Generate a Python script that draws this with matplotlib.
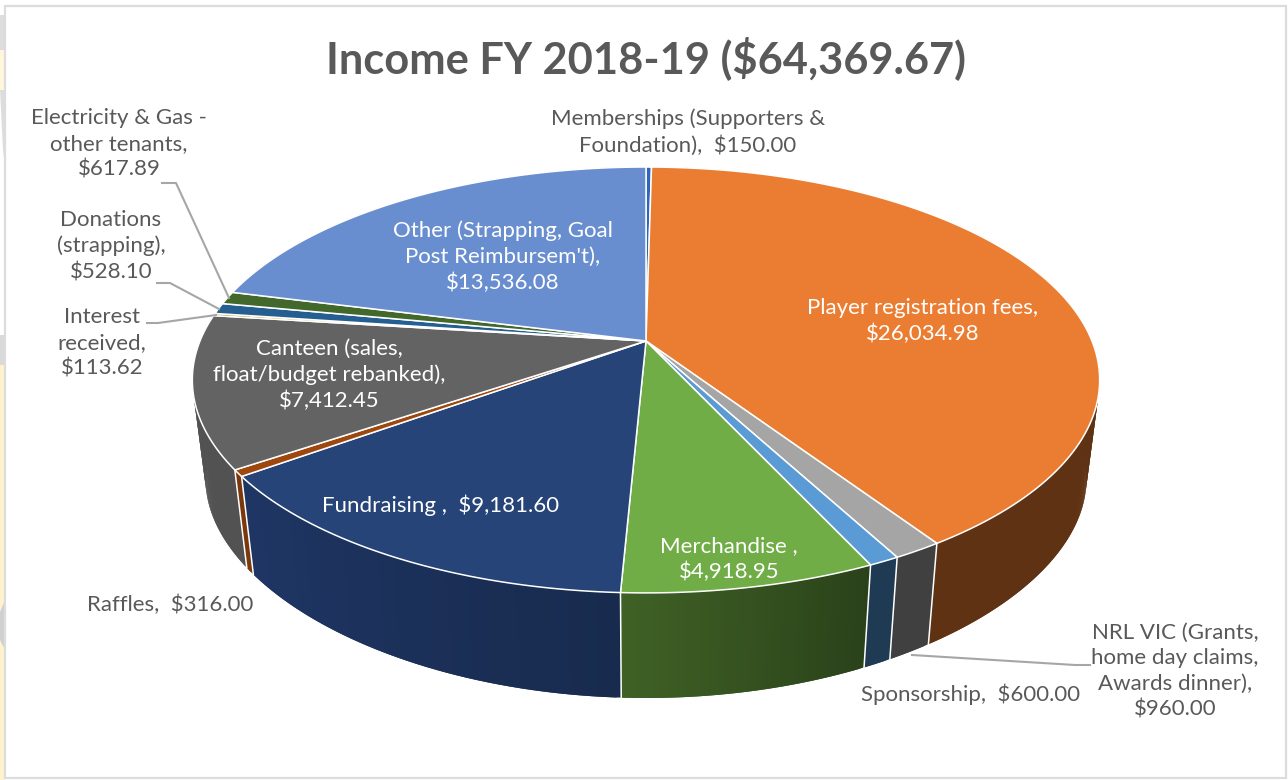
import numpy as np
import matplotlib
matplotlib.use("Agg")
import matplotlib.pyplot as plt
from matplotlib.patches import Polygon, Rectangle

plt.rcParams['font.family'] = ['Lato', 'DejaVu Sans']

# data, clockwise from 12 o'clock
names = ["Memberships", "Player registration fees", "NRL VIC", "Sponsorship", "Merchandise",
         "Fundraising", "Raffles", "Canteen", "Interest received", "Donations",
         "Electricity & Gas", "Other"]
values = [150.00, 26034.98, 960.00, 600.00, 4918.95,
          9181.60, 316.00, 7412.45, 113.62, 528.10,
          617.89, 13536.08]
colors = ["#2F66B8", "#EB7D32", "#A5A5A5", "#5B9BD5", "#70AD47",
          "#264478", "#9E480E", "#636363", "#C9A227", "#255E91",
          "#43682B", "#698ED0"]
# side wall colours at start and end of each slice
side_from = ["#1E3F73", "#5F3214", "#404040", "#1F3B54", "#2A421A",
             "#182B4E", "#7A380C", "#525252", "#7A6212", "#1A4266",
             "#2C451C", "#3F5C8F"]
side_to = ["#1E3F73", "#5F3214", "#404040", "#1F3B54", "#3F6125",
           "#1F3665", "#7A380C", "#525252", "#7A6212", "#1A4266",
           "#2C451C", "#3F5C8F"]

title = "Income FY 2018-19 ($64,369.67)"

# label text, x, y of middle, colour
labels = [
    ("Memberships (Supporters &\nFoundation),  $150.00", 688, 132, "#595959"),
    ("Electricity & Gas -\nother tenants,\n$617.89", 119, 144, "#595959"),
    ("Donations\n(strapping),\n$528.10", 111, 246, "#595959"),
    ("Interest\nreceived,\n$113.62", 102, 343, "#595959"),
    ("Raffles,  $316.00", 170, 605, "#595959"),
    ("Sponsorship,  $600.00", 971, 694, "#595959"),
    ("NRL VIC (Grants,\nhome day claims,\nAwards dinner),\n$960.00", 1175, 671, "#595959"),
    ("Other (Strapping, Goal\nPost Reimbursem't),\n$13,536.08", 503, 257, "white"),
    ("Player registration fees,\n$26,034.98", 923, 321, "white"),
    ("Canteen (sales,\nfloat/budget rebanked),\n$7,412.45", 329, 375, "white"),
    ("Fundraising ,  $9,181.60", 441, 505, "white"),
    ("Merchandise ,\n$4,918.95", 729, 559, "white"),
]

# leader lines
leaders = [
    ([162, 176, 229], [183, 183, 298]),
    ([157, 170, 219], [283, 283, 309]),
    ([147, 158, 216], [323, 323, 315]),
    ([1090, 1075, 912], [665, 665, 655]),
]

CX = 646
TILT = 0.183


def top_xy(t):
    # t in degrees clockwise from top, perspective projection of the disc
    a = np.radians(t)
    w = 1 + TILT * np.cos(a)
    return CX + 446 * np.sin(a) / w, (341 - 143.4 * np.cos(a)) / w


def bottom_xy(t):
    a = np.radians(t)
    w = 1 + TILT * np.cos(a)
    w2 = 1 + 0.25 * np.cos(a)
    return CX + 433 * np.sin(a) / w, (442.5 - 81 * np.cos(a)) / w2


def mix(c1, c2, f):
    a = np.array(matplotlib.colors.to_rgb(c1))
    b = np.array(matplotlib.colors.to_rgb(c2))
    return tuple(a + (b - a) * f)


fig = plt.figure(figsize=(12.88, 7.8), dpi=100)
ax = fig.add_axes([0, 0, 1, 1])
ax.set_xlim(0, 1288)
ax.set_ylim(780, 0)
ax.axis("off")

# slide leftovers behind the chart
ax.add_patch(Rectangle((0, 365), 5, 415, color="#FFF2CC", lw=0))
ax.add_patch(Rectangle((0, 50), 5, 40, color="#FFF6DC", lw=0))
ax.add_patch(Rectangle((0, 15), 5, 35, color="#DDDDDD", lw=0))
ax.add_patch(Polygon([(0, 90), (5, 90), (5, 165), (3, 150)], color="#DDDDDD", lw=0))
ax.add_patch(Rectangle((0, 335), 5, 30, color="#D9D9D9", lw=0))
ax.add_patch(Polygon([(5, 600), (5, 650), (0, 640), (0, 612)], color="#D0D0D0", lw=0))
ax.add_patch(Rectangle((5.5, 6), 1281, 772, fc="white", ec="#DCDCDC", lw=1.6))

edges = np.concatenate([[0], np.cumsum(values)]) / sum(values) * 360

# side walls, each quad runs into the next so no seams show
for i in range(len(values)):
    n = max(int((edges[i + 1] - edges[i]) * 2), 2)
    ts = np.linspace(edges[i], edges[i + 1], n + 1)
    for j in range(n):
        x1, y1 = top_xy(ts[j:j + 3])
        x2, y2 = bottom_xy(ts[j:j + 3])
        pts = np.column_stack([np.r_[x1, x2[::-1]], np.r_[y1, y2[::-1]]])
        c = mix(side_from[i], side_to[i], j / max(n - 1, 1))
        ax.add_patch(Polygon(pts, fc=c, lw=0, zorder=2))
for i in range(len(values)):
    x1, y1 = top_xy(edges[i])
    x2, y2 = bottom_xy(edges[i])
    ax.plot([x1, x2], [y1, y2], color="white", lw=1.1, zorder=3)

# top face
for i in range(len(values)):
    ts = np.linspace(edges[i], edges[i + 1], 120)
    x, y = top_xy(ts)
    pts = np.column_stack([np.r_[CX, x], np.r_[341, y]])
    ax.add_patch(Polygon(pts, fc=colors[i], ec="white", lw=1.1, joinstyle="round", zorder=4))

for xs, ys in leaders:
    ax.plot(xs, ys, color="#A6A6A6", lw=1.5, zorder=5)

ax.text(646, 58, title, ha="center", va="center", fontsize=31.2, fontweight="bold",
        color="#595959", zorder=6)
for txt, x, y, c in labels:
    ax.text(x, y, txt, ha="center", va="center", fontsize=16, color=c,
            linespacing=1.36, zorder=6)

fig.savefig("out.png", dpi=100)
